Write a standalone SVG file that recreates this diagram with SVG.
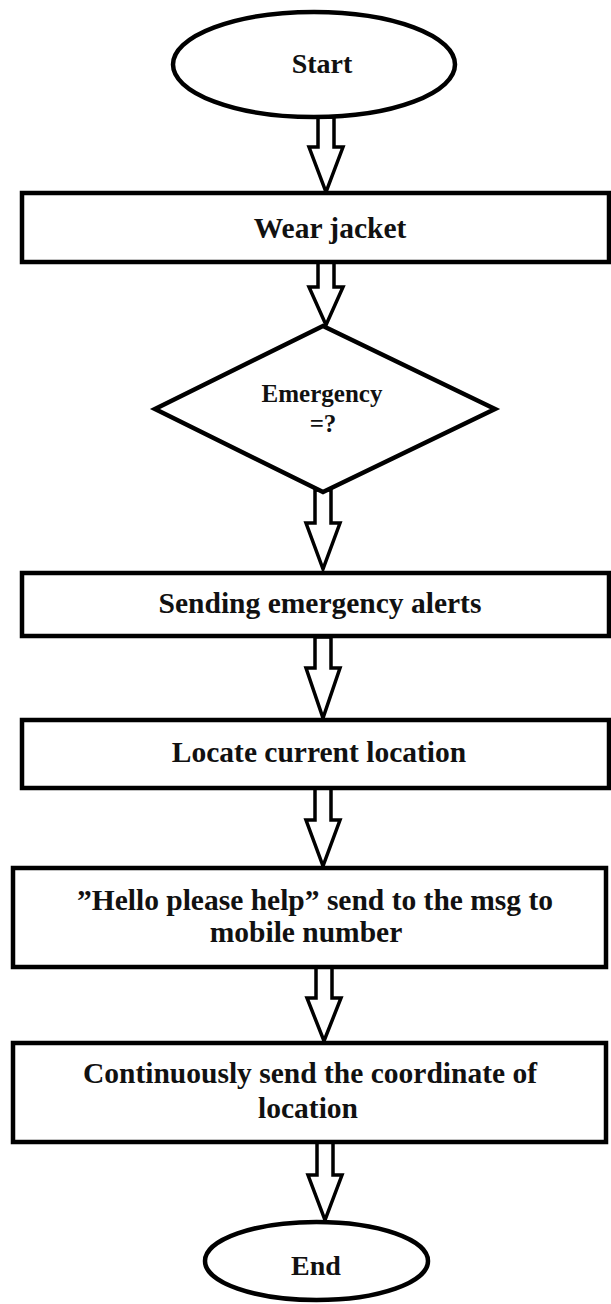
<svg xmlns="http://www.w3.org/2000/svg" width="611" height="1304" viewBox="0 0 611 1304">
<style>
.shape{fill:#fff;stroke:#000;stroke-width:4.5}
.arrow{fill:#fff;stroke:#000;stroke-width:3.5;stroke-linejoin:miter}
text{font-family:"Liberation Serif","Times New Roman",serif;font-weight:bold;fill:#111;text-anchor:middle}
.t{font-size:29.5px}
.s{font-size:28px}
.e{font-size:25px}
</style>
<rect width="611" height="1304" fill="#fff"/>
<g id="connectors">
<polygon class="arrow" points="318,117 334,117 334,147 343,147 326,192 309,147 318,147"/>
<polygon class="arrow" points="318,262 334,262 334,287 343,287 326,325 309,287 318,287"/>
<polygon class="arrow" points="315,490 331,490 331,523 340,523 323,569 306,523 315,523"/>
<polygon class="arrow" points="315,637 331,637 331,668 340,668 323,718 306,668 315,668"/>
<polygon class="arrow" points="315,788 331,788 331,820 340,820 323,866 306,820 315,820"/>
<polygon class="arrow" points="316,967 332,967 332,998 341,998 324,1041 307,998 316,998"/>
<polygon class="arrow" points="317,1142 333,1142 333,1175 342,1175 325,1220 308,1175 317,1175"/>
</g>
<g id="start">
<ellipse class="shape" cx="314" cy="64.5" rx="141" ry="52.5" stroke-width="4"/>
<text class="s" x="322" y="73">Start</text>
</g>
<g id="wear-jacket">
<rect class="shape" x="22" y="193" width="587" height="69"/>
<text class="t" x="330" y="238">Wear jacket</text>
</g>
<g id="emergency">
<polygon class="shape" points="323,326 495,409 323,492 155,409" stroke-width="4"/>
<text class="e" x="322" y="402">Emergency</text>
<text class="e" x="323" y="432">=?</text>
</g>
<g id="sending-alerts">
<rect class="shape" x="22" y="573" width="587" height="63"/>
<text class="t" x="320" y="613">Sending emergency alerts</text>
</g>
<g id="locate">
<rect class="shape" x="22" y="720" width="587" height="68"/>
<text class="t" x="319" y="762">Locate current location</text>
</g>
<g id="hello-msg">
<rect class="shape" x="13" y="868" width="593" height="99"/>
<text class="t" x="315" y="910">”Hello please help” send to the msg to</text>
<text class="t" x="306" y="942">mobile number</text>
</g>
<g id="coordinates">
<rect class="shape" x="13" y="1043" width="593" height="99"/>
<text class="t" x="310" y="1083">Continuously send the coordinate of</text>
<text class="t" x="308" y="1118">location</text>
</g>
<g id="end">
<ellipse class="shape" cx="316.5" cy="1261" rx="111.5" ry="39" stroke-width="4"/>
<text class="s" x="316" y="1275">End</text>
</g>
</svg>
